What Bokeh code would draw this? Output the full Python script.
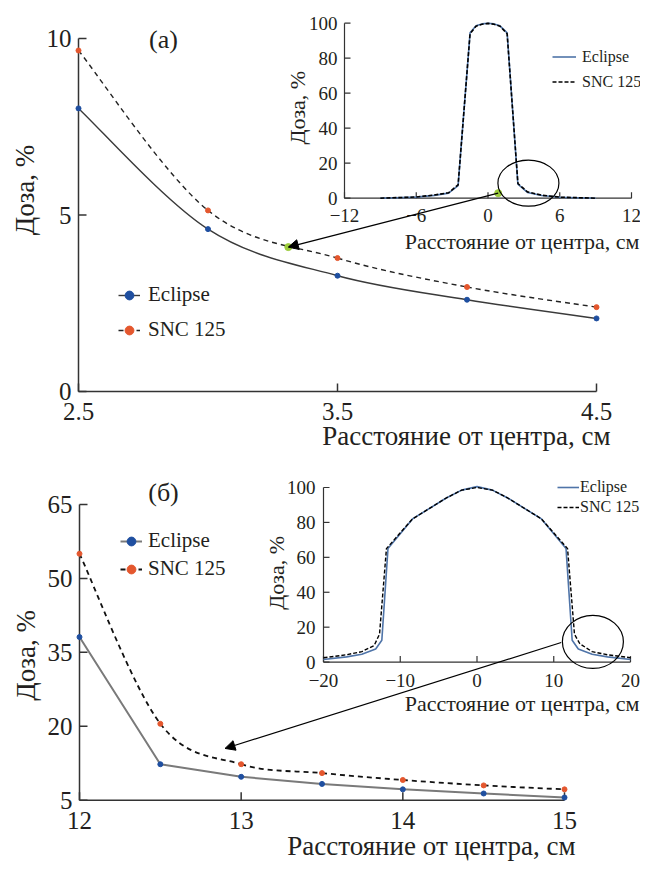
import numpy as np
from bokeh.plotting import figure
from bokeh.models import Range1d, Legend, LegendItem, Arrow, NormalHead
from bokeh.layouts import column
from bokeh.embed import file_html
from bokeh.resources import INLINE
from bokeh.core.properties import value

FONT = "Liberation Serif"
TXT = "#231f20"
AX = "#333333"

# ---------------- panel (a) data ----------------
a_x = [2.5, 3.0, 3.5, 4.0, 4.5]
a_eclipse = [8.02, 4.60, 3.28, 2.60, 2.07]
a_snc = [9.66, 5.13, 3.78, 2.96, 2.39]
a_mark = [3.31, 4.09]
a_xticks = [2.5, 3.5, 4.5]
a_xlabels = ["2.5", "3.5", "4.5"]
a_yticks = [0, 5, 10]
a_ylabels = ["0", "5", "10"]

a_in_x = [-9.0, -6.0, -4.5, -3.3, -2.5, -1.5, -1.0, -0.5, 0.0, 0.5, 1.0, 1.6, 2.5, 3.3, 4.5, 6.0, 9.0]
a_in_eclipse = [0.0, 0.6, 1.6, 2.9, 7.2, 94.5, 98.5, 99.6, 100.0, 99.6, 98.5, 94.5, 8.0, 3.3, 1.5, 0.5, 0.0]
a_in_snc = [0.0, 0.7, 1.8, 3.1, 7.6, 94.0, 98.3, 99.4, 99.9, 99.4, 98.3, 94.0, 8.4, 3.6, 1.7, 0.6, 0.0]
a_in_mark = [0.85, 2.9]
a_in_circle = [3.38, 8.6]
a_in_xticks = [-12, -6, 0, 6, 12]
a_in_xlabels = ["\u221212", "\u22126", "0", "6", "12"]
a_in_yticks = [0, 20, 40, 60, 80, 100]
a_in_ylabels = ["0", "20", "40", "60", "80", "100"]

# ---------------- panel (б) data ----------------
b_x = [12.0, 12.5, 13.0, 13.5, 14.0, 14.5, 15.0]
b_eclipse = [38.1, 12.3, 9.75, 8.3, 7.2, 6.36, 5.55]
b_snc = [55.0, 20.5, 12.3, 10.5, 9.1, 8.0, 7.2]
b_arrow_end = [12.90, 15.5]
b_xticks = [12, 13, 14, 15]
b_xlabels = ["12", "13", "14", "15"]
b_yticks = [5, 20, 35, 50, 65]
b_ylabels = ["5", "20", "35", "50", "65"]

b_in_x_ecl = [-20, -17, -15, -13.2, -12.4, -11.6, -8.4, -4, -2, 0, 2, 4, 8.4, 11.6, 12.4, 13.2, 15, 17, 20]
b_in_eclipse = [1.5, 3.0, 4.5, 7.5, 12.5, 65, 82, 94, 98.5, 100.5, 98.5, 94, 82, 65, 12.5, 7.5, 4.5, 3.0, 1.5]
b_in_x_snc = [-20, -17, -15, -13.4, -12.7, -11.8, -8.4, -4, -2, 0, 2, 4, 8.4, 11.8, 12.7, 13.4, 15, 17, 20]
b_in_snc = [2.5, 4.2, 6.0, 9.5, 16, 65, 82, 94, 98.5, 100, 98.5, 94, 82, 65, 16, 10.5, 6.0, 4.2, 2.5]
b_in_arrow_start = [10.97, 11.2]
b_in_circle = [15.1, 11.6]
b_in_xticks = [-20, -10, 0, 10, 20]
b_in_xlabels = ["\u221220", "\u221210", "0", "10", "20"]
b_in_yticks = [0, 20, 40, 60, 80, 100]
b_in_ylabels = ["0", "20", "40", "60", "80", "100"]

# ---------------- layout (pixels) ----------------
W = 640
H_A = 452
H_B = 411
NAN = [float("nan")]  # legend-only line samples (draw nothing on the plot)


def xspan(v0, px0, v1, px1):
    k = (v1 - v0) / (px1 - px0)
    return Range1d(v0 - px0 * k, v0 + (W - px0) * k)


def yspan(v0, py0, v1, py1, H):
    b0, b1 = H - py0, H - py1
    k = (v1 - v0) / (b1 - b0)
    return Range1d(v0 - b0 * k, v0 + (H - b0) * k)


def to_other(v, r_from, r_to):
    return r_to.start + (v - r_from.start) * (r_to.end - r_to.start) / (r_from.end - r_from.start)


def catmull(xs, ys):
    P = np.column_stack([xs, ys]).astype(float)
    P = np.vstack([P[:1], P, P[-1:]])
    n = len(xs)
    a = P[1:n]; b = P[2:n + 1]
    c0 = a + (P[2:n + 1] - P[0:n - 1]) / 6.0
    c1 = b - (P[3:n + 2] - P[1:n]) / 6.0
    return dict(x0=a[:, 0], y0=a[:, 1], x1=b[:, 0], y1=b[:, 1],
                cx0=c0[:, 0], cy0=c0[:, 1], cx1=c1[:, 0], cy1=c1[:, 1])


def make_fig(H, xr, yr):
    p = figure(width=W, height=H, x_range=xr, y_range=yr,
               output_backend="svg", toolbar_location=None,
               x_axis_location=None, y_axis_location=None, min_border=0)
    p.min_border_left = p.min_border_right = p.min_border_top = p.min_border_bottom = 0
    p.outline_line_color = None
    p.grid.visible = False
    p.background_fill_color = "white"
    p.border_fill_color = "white"
    return p


def txt(p, rn, x, y, text, size, **kw):
    return p.text(x=x, y=y, text=text, text_font=value(FONT), text_font_size=value(size),
                  text_color=TXT, x_range_name=rn, y_range_name=rn, **kw)


def axes(p, rn, xticks, xlabels, yticks, ylabels, tick_len, size, xdy, ydx, lw):
    kw = dict(x_range_name=rn, y_range_name=rn)
    x0, x1 = xticks[0], xticks[-1]
    y0, y1 = yticks[0], yticks[-1]
    p.segment(x0=[x0, x0], y0=[y0, y0], x1=[x1, x0], y1=[y0, y1],
              line_color=AX, line_width=lw, **kw)
    p.ray(x=xticks, y=[y0] * len(xticks), length=tick_len, length_units="screen",
          angle=np.pi / 2, line_color=AX, line_width=lw, **kw)
    p.ray(x=[x0] * len(yticks), y=yticks, length=tick_len, length_units="screen",
          angle=0, line_color=AX, line_width=lw, **kw)
    txt(p, rn, xticks, [y0] * len(xticks), xlabels, size,
        text_align="center", text_baseline="middle", y_offset=xdy)
    txt(p, rn, [x0] * len(yticks), yticks, ylabels, size,
        text_align="right", text_baseline="middle", x_offset=ydx)


def titles(p, rn, xticks, yticks, size, xt_dx, xt_dy, yt_dx, yt_dy):
    txt(p, rn, [xticks[-1]], [yticks[0]], ["Расстояние от центра, см"], size,
        text_align="right", text_baseline="middle", x_offset=xt_dx, y_offset=xt_dy)
    txt(p, rn, [xticks[0]], [(yticks[0] + yticks[-1]) / 2], ["Доза, %"], size,
        angle=np.pi / 2, text_align="center", text_baseline="middle",
        x_offset=yt_dx, y_offset=yt_dy)


def legend(items, loc, size, gw, gh, spacing, standoff):
    return Legend(items=items, location=loc, padding=0, margin=0,
                  border_line_color=None, background_fill_alpha=0,
                  glyph_width=gw, glyph_height=gh, label_height=gh,
                  spacing=spacing, label_standoff=standoff,
                  label_text_font=FONT, label_text_font_size=size,
                  label_text_color=TXT)


BLUE = "#1f4fa0"
ORANGE = "#e4572e"
GREEN = "#9ccc3c"
INSET_BLUE = "#4f74a8"

# ================= top panel (a) =================
xr_a = xspan(2.5, 78, 4.5, 596)
yr_a = yspan(0, 391, 10, 38, H_A)
pa = make_fig(H_A, xr_a, yr_a)
pa.extra_x_ranges = {"in": xspan(-12, 344, 12, 631)}
pa.extra_y_ranges = {"in": yspan(0, 197.7, 100, 22.7, H_A)}
xr_ai, yr_ai = pa.extra_x_ranges["in"], pa.extra_y_ranges["in"]

axes(pa, "default", a_xticks, a_xlabels, a_yticks, a_ylabels, 8, "25px", 20, -7, 1.5)
titles(pa, "default", a_xticks, a_yticks, "27px", 14, 44, -54, -25)
txt(pa, "default", [a_xticks[0]], [a_yticks[-1]], ["(a)"], "26px",
    text_align="center", text_baseline="middle", x_offset=85, y_offset=1)

line_style_a_e = dict(line_color="#3a3a3a", line_width=1.4)
line_style_a_s = dict(line_color="#222222", line_width=1.4, line_dash="5 4")
pa.bezier(**line_style_a_e, **catmull(a_x, a_eclipse))
pa.bezier(**line_style_a_s, **catmull(a_x, a_snc))
lg_ae = pa.line(x=NAN, y=NAN, **line_style_a_e)
lg_as = pa.line(x=NAN, y=NAN, **line_style_a_s)
ea_p = pa.scatter(a_x, a_eclipse, size=5, color=BLUE)
sa_p = pa.scatter(a_x, a_snc, size=5, color=ORANGE)
pa.scatter([a_mark[0]], [a_mark[1]], size=7, color=GREEN)

axes(pa, "in", a_in_xticks, a_in_xlabels, a_in_yticks, a_in_ylabels, 6, "19px", 17, -7, 1.2)
titles(pa, "in", a_in_xticks, a_in_yticks, "22px", 8, 43, -47, -3)
ie = pa.line(a_in_x, a_in_eclipse, line_color=INSET_BLUE, line_width=1.6, x_range_name="in", y_range_name="in")
isn = pa.line(a_in_x, a_in_snc, line_color="black", line_width=1.6, line_dash="4 2", x_range_name="in", y_range_name="in")
pa.scatter([a_in_mark[0]], [a_in_mark[1]], size=7, color=GREEN, x_range_name="in", y_range_name="in")
pa.ellipse(x=[a_in_circle[0]], y=[a_in_circle[1]], width=61, height=46,
           width_units="screen", height_units="screen", fill_color=None,
           line_color="black", line_width=1.2, x_range_name="in", y_range_name="in")

pa.add_layout(Arrow(end=NormalHead(size=10, fill_color="black", line_color="black"),
                    x_start=to_other(a_in_mark[0], xr_ai, xr_a),
                    y_start=to_other(a_in_mark[1], yr_ai, yr_a),
                    x_end=a_mark[0], y_end=a_mark[1],
                    line_color="black", line_width=1.2))

pa.add_layout(legend([LegendItem(label="Eclipse", renderers=[lg_ae, ea_p]),
                      LegendItem(label="SNC 125", renderers=[lg_as, sa_p])],
                     (118, 110), "21px", 22, 24, 10, 8))
pa.add_layout(legend([LegendItem(label="Eclipse", renderers=[ie]),
                      LegendItem(label="SNC 125", renderers=[isn])],
                     (552, 361), "16px", 24, 19, 6, 6))

# ================= bottom panel (б) =================
OFF_B = 474  # vertical position of this figure inside the composed picture
xr_b = xspan(12, 79, 15, 564)
yr_b = yspan(5, 821.7 - OFF_B, 65, 526 - OFF_B, H_B)
pb = make_fig(H_B, xr_b, yr_b)
pb.extra_x_ranges = {"in": xspan(-20, 323, 20, 630)}
pb.extra_y_ranges = {"in": yspan(0, 683.6 - OFF_B, 100, 509 - OFF_B, H_B)}
xr_bi, yr_bi = pb.extra_x_ranges["in"], pb.extra_y_ranges["in"]

axes(pb, "default", b_xticks, b_xlabels, b_yticks, b_ylabels, 8, "25px", 20, -7, 1.5)
titles(pb, "default", b_xticks, b_yticks, "27px", 11, 46, -54, 3)
txt(pb, "default", [b_xticks[0]], [b_yticks[-1]], ["(б)"], "26px",
    text_align="center", text_baseline="middle", x_offset=84, y_offset=-12)

line_style_b_s = dict(line_color="#111111", line_width=1.8, line_dash="5 4")
eb = pb.line(b_x, b_eclipse, line_color="#7a7a7a", line_width=2)
pb.bezier(**line_style_b_s, **catmull(b_x, b_snc))
lg_bs = pb.line(x=NAN, y=NAN, **line_style_b_s)
eb_p = pb.scatter(b_x, b_eclipse, size=5, color=BLUE)
sb_p = pb.scatter(b_x, b_snc, size=5, color=ORANGE)

axes(pb, "in", b_in_xticks, b_in_xlabels, b_in_yticks, b_in_ylabels, 6, "19px", 18, -8, 1.2)
titles(pb, "in", b_in_xticks, b_in_yticks, "22px", 9, 41, -47, -2)
ibe = pb.line(b_in_x_ecl, b_in_eclipse, line_color=INSET_BLUE, line_width=1.6, x_range_name="in", y_range_name="in")
ibs = pb.line(b_in_x_snc, b_in_snc, line_color="black", line_width=1.4, line_dash="4 2", x_range_name="in", y_range_name="in")
pb.ellipse(x=[b_in_circle[0]], y=[b_in_circle[1]], width=61, height=53,
           width_units="screen", height_units="screen", fill_color=None,
           line_color="black", line_width=1.2, x_range_name="in", y_range_name="in")

pb.add_layout(Arrow(end=NormalHead(size=10, fill_color="black", line_color="black"),
                    x_start=to_other(b_in_arrow_start[0], xr_bi, xr_b),
                    y_start=to_other(b_in_arrow_start[1], yr_bi, yr_b),
                    x_end=b_arrow_end[0], y_end=b_arrow_end[1],
                    line_color="black", line_width=1.2))

pb.add_layout(legend([LegendItem(label="Eclipse", renderers=[eb, eb_p]),
                      LegendItem(label="SNC 125", renderers=[lg_bs, sb_p])],
                     (120, 282), "21px", 22, 24, 3, 6))
pb.add_layout(legend([LegendItem(label="Eclipse", renderers=[ibe]),
                      LegendItem(label="SNC 125", renderers=[ibs])],
                     (557, 347), "16px", 22, 18, 2, 1))

layout = column(pa, pb, spacing=0)
open("out.html", "w").write(file_html(layout, INLINE))
